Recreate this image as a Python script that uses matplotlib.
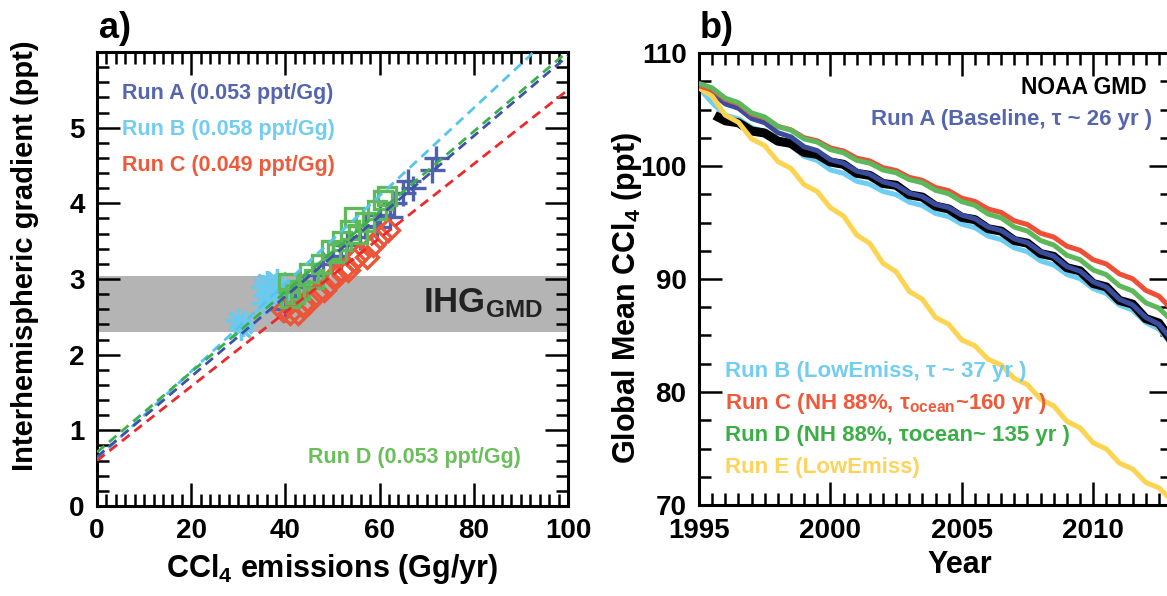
import matplotlib
matplotlib.use('Agg')
import matplotlib.pyplot as plt
import numpy as np
from matplotlib.ticker import MultipleLocator

plt.rcParams['font.family'] = 'Liberation Sans'
plt.rcParams['font.weight'] = 'bold'
plt.rcParams['mathtext.fontset'] = 'custom'
plt.rcParams['mathtext.rm'] = 'Liberation Sans:bold'
plt.rcParams['mathtext.bf'] = 'Liberation Sans:bold'
plt.rcParams['mathtext.it'] = 'Liberation Sans:bold'

# ---- panel a: emissions (Gg/yr) vs interhemispheric gradient (ppt)
emis_A = [40, 42, 44, 46, 48, 50, 51.7, 53, 55.9, 57, 59.5, 60, 62.3, 63, 65, 66, 67, 71.2, 72]
ihg_A = [2.6, 2.75, 2.9, 3.05, 3.2, 3.3, 3.25, 3.45, 3.55, 3.7, 3.69, 3.85, 3.82, 4.0, 4.13, 4.3, 4.2, 4.44, 4.6]
emis_B = [29.9, 30.5, 31, 35.2, 35.4, 36, 37, 38.3, 39]
ihg_B = [2.46, 2.35, 2.4, 2.89, 2.68, 2.95, 2.8, 2.98, 2.85]
emis_C = [39.4, 41, 42.6, 43.5, 45, 46.5, 48.1, 49.5, 50.5, 52, 53.2, 54.5, 55.5, 57.4, 58.5, 60, 61.7]
ihg_C = [2.59, 2.55, 2.55, 2.65, 2.7, 2.8, 2.85, 2.95, 3.05, 3.1, 3.12, 3.25, 3.3, 3.29, 3.45, 3.55, 3.65]
emis_D = [40.5, 41, 42, 43, 45, 46, 47.5, 49.6, 51, 52, 53.8, 54.5, 55.5, 57, 59.5, 60.8, 61.5]
ihg_D = [2.95, 2.75, 2.8, 2.85, 3.08, 3.0, 3.2, 3.38, 3.35, 3.5, 3.65, 3.82, 3.6, 3.75, 3.91, 4.04, 4.1]

fit_x = [0, 100]
fit_A = [0.65, 5.95]
fit_B = [0.62, 6.42]
fit_C = [0.60, 5.50]
fit_D = [0.71, 6.01]
ihg_gmd = (2.30, 3.04)

# ---- panel b: global mean CCl4 (ppt), half-yearly
years = np.arange(1995, 2013.01, 0.5)
run_A = [106.9, 106.48, 105.5, 105.11, 104.2, 103.83, 102.95, 102.58, 101.7, 101.36, 100.55, 100.25,
         99.55, 99.27, 98.6, 98.3, 97.6, 97.3, 96.6, 96.32, 95.65, 95.34, 94.6, 94.29, 93.55, 93.21,
         92.4, 92.01, 91.1, 90.7, 89.75, 89.29, 88.2, 87.72, 86.6, 86.0, 84.6]
run_B = [106.9, 105.6, 104.5, 104.17, 103.4, 103.04, 102.2, 101.8, 100.85, 100.49, 99.65, 99.35,
         98.65, 98.38, 97.75, 97.47, 96.8, 96.5, 95.8, 95.52, 94.85, 94.54, 93.8, 93.49, 92.75, 92.41,
         91.6, 91.24, 90.4, 90.03, 89.15, 88.72, 87.7, 87.24, 86.15, 85.57, 84.2]
run_C = [107.1, 106.74, 105.9, 105.51, 104.6, 104.27, 103.5, 103.2, 102.5, 102.23, 101.6, 101.33,
         100.7, 100.45, 99.85, 99.6, 99.0, 98.73, 98.1, 97.82, 97.15, 96.87, 96.2, 95.89, 95.15, 94.82,
         94.05, 93.71, 92.9, 92.54, 91.7, 91.33, 90.45, 90.02, 89.0, 88.49, 87.3]
run_D = [107.3, 106.91, 106.0, 105.61, 104.7, 104.34, 103.5, 103.17, 102.4, 102.12, 101.45, 101.17,
         100.5, 100.25, 99.65, 99.4, 98.8, 98.52, 97.85, 97.55, 96.85, 96.52, 95.75, 95.41, 94.6, 94.24,
         93.4, 93.01, 92.1, 91.71, 90.8, 90.38, 89.4, 88.95, 87.9, 87.42, 86.3]
run_E = [106.9, 106.18, 104.5, 103.87, 102.4, 101.8, 100.4, 99.79, 98.35, 97.74, 96.3, 95.58,
         93.9, 93.15, 91.4, 90.65, 88.9, 88.21, 86.6, 86.0, 84.6, 84.09, 82.9, 82.39, 81.2, 80.65,
         79.35, 78.77, 77.4, 76.83, 75.5, 74.96, 73.7, 73.19, 72.0, 71.52, 70.4]
gmd_years = np.concatenate([[1995.75], np.arange(1996, 2013.01, 0.5)])
gmd = [104.3, 104.0, 103.82, 103.1, 102.92, 102.2, 102.0, 101.2, 101.03, 100.35, 100.15, 99.35,
       99.17, 98.45, 98.3, 97.45, 97.25, 96.45, 96.2, 95.45, 95.25, 94.45, 94.24, 93.4, 93.17,
       92.25, 92.0, 91.0, 90.72, 89.6, 89.3, 88.1, 87.78, 86.5, 86.1, 84.5]

cA, cB, cC, cD, cE = '#5565ae', '#72cdf0', '#ef5a3a', '#5cb85a', '#fdd35a'

W, H = 1167, 596
fig = plt.figure(figsize=(W / 100, H / 100), dpi=100)
fig.patch.set_facecolor('white')


def fx(x):
    return x / W


def fy(y):
    return 1 - y / H


def style(ax):
    for s in ax.spines.values():
        s.set_linewidth(2.2)
    ax.tick_params(which='both', direction='in', top=True, right=True, width=1.8,
                   labelsize=20, pad=9)
    ax.tick_params(which='major', length=16.5)
    ax.tick_params(which='minor', length=8.5)


# ---------------- panel a
ax1 = fig.add_axes([fx(97), fy(506), fx(568 - 97), (506 - 52) / H])
ax1.axhspan(*ihg_gmd, color='#b4b4b4', lw=0, zorder=0)
ax1.plot(emis_A, ihg_A, ls='none', marker='+', ms=18, mew=2.4, color='#4f60ad', zorder=2)
ax1.plot(emis_B, ihg_B, ls='none', marker=(8, 2, 0), ms=18, mew=2.4, color='#6cc9ee', zorder=2)
ax1.plot(emis_C, ihg_C, ls='none', marker='D', ms=11, mew=2.4, mfc='none', color='#ec5538', zorder=2)
ax1.plot(emis_D, ihg_D, ls='none', marker='s', ms=13, mew=2.4, mfc='none', color='#5fb85a', zorder=2)
dash = (0, (3.5, 2.2))
ax1.plot(fit_x, fit_B, ls=dash, lw=2, color='#55c5ef', zorder=3)
ax1.plot(fit_x, fit_C, ls=dash, lw=2, color='#ec2a2e', zorder=3)
ax1.plot(fit_x, fit_A, ls=dash, lw=2, color='#3d52a8', zorder=3)
ax1.plot(fit_x, fit_D, ls=dash, lw=2, color='#3ab04a', zorder=3)
ax1.set_xlim(0, 100)
ax1.set_ylim(0, 6)
ax1.xaxis.set_major_locator(MultipleLocator(20))
ax1.xaxis.set_minor_locator(MultipleLocator(2))
ax1.set_yticks([0, 1, 2, 3, 4, 5])
ax1.yaxis.set_minor_locator(MultipleLocator(0.2))
style(ax1)

fig.text(fx(122), fy(93), 'Run A (0.053 ppt/Gg)', color=cA, fontsize=15.5, va='center')
fig.text(fx(122), fy(130), 'Run B (0.058 ppt/Gg)', color=cB, fontsize=15.5, va='center')
fig.text(fx(122), fy(165), 'Run C (0.049 ppt/Gg)', color=cC, fontsize=15.5, va='center')
fig.text(fx(308), fy(457), 'Run D (0.053 ppt/Gg)', color='#6abf5a', fontsize=15.5, va='center')
fig.text(fx(423), fy(312), r'IHG$_{\mathbf{GMD}}$', color='#222222', fontsize=25, va='baseline')

fig.text(fx(25), fy(256), 'Interhemispheric gradient (ppt)', fontsize=21, rotation=90,
         ha='center', va='center')
fig.text(fx(332), fy(569), r'CCl$_4$ emissions (Gg/yr)', fontsize=22, ha='center', va='center')
fig.text(fx(99), fy(28), 'a)', fontsize=26, ha='left', va='center')

# ---------------- panel b
ax2 = fig.add_axes([fx(699), fy(505), fx(1172 - 699), (505 - 53) / H])
ax2.plot(years, run_B, lw=3.6, color='#6dcdf2', zorder=2)
ax2.plot(gmd_years, gmd, lw=6.5, color='black', zorder=3)
ax2.plot(years, run_A, lw=3.6, color='#3a4c9e', zorder=4)
ax2.plot(years, run_E, lw=3.6, color='#fdd451', zorder=5)
ax2.plot(years, run_C, lw=3.6, color='#ee4f37', zorder=6)
ax2.plot(years, run_D, lw=3.6, color='#5cb85a', zorder=7)
ax2.set_xlim(1995, 2013)
ax2.set_ylim(70, 110)
ax2.xaxis.set_major_locator(MultipleLocator(5))
ax2.xaxis.set_minor_locator(MultipleLocator(0.5))
ax2.yaxis.set_major_locator(MultipleLocator(10))
ax2.yaxis.set_minor_locator(MultipleLocator(2.5))
style(ax2)

fig.text(fx(1147), fy(87), 'NOAA GMD', color='black', fontsize=16.5, ha='right', va='center')
fig.text(fx(1152), fy(120), 'Run A (Baseline, τ ~ 26 yr )', color=cA, fontsize=16,
         ha='right', va='center')
fig.text(fx(725), fy(372), 'Run B (LowEmiss, τ ~ 37 yr )', color=cB, fontsize=16, va='center')
fig.text(fx(725), fy(403), r'Run C (NH 88%, τ$_{ocean}$~160 yr )', color=cC, fontsize=16,
         va='center')
fig.text(fx(725), fy(435), 'Run D (NH 88%, τocean~ 135 yr )', color='#3cae48', fontsize=16,
         va='center')
fig.text(fx(725), fy(467), 'Run E (LowEmiss)', color=cE, fontsize=16, va='center')

fig.text(fx(627), fy(298), r'Global Mean CCl$_4$ (ppt)', fontsize=22, rotation=90,
         ha='center', va='center')
fig.text(fx(960), fy(565), 'Year', fontsize=22, ha='center', va='center')
fig.text(fx(700), fy(28), 'b)', fontsize=26, ha='left', va='center')

fig.savefig('out.png', dpi=100)
